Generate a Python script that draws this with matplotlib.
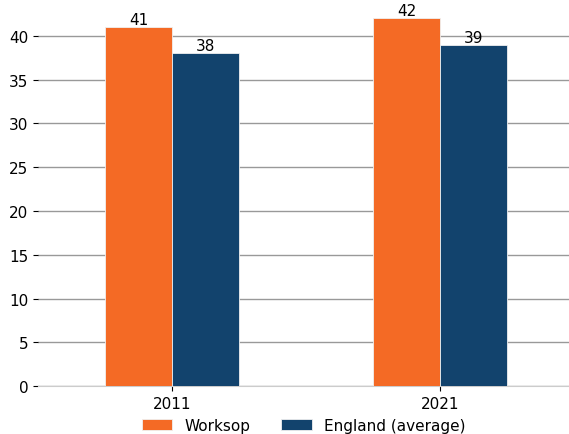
import matplotlib
matplotlib.use('Agg')

import matplotlib.pyplot as plt
import numpy as np

years = ["2011", "2021"]
worksop = [41, 42]
england = [38, 39]
series_names = ["Worksop", "England (average)"]
colours = ["#f46a25", "#12436d"]

fig = plt.figure(figsize=(5.69, 4.35), dpi=100)
ax = fig.add_axes([0.067, 0.11, 0.933, 0.89])

x = np.arange(len(years))
w = 0.25
b1 = ax.bar(x - w / 2, worksop, w, color=colours[0], edgecolor='#f0f0f0',
            linewidth=0.6, label=series_names[0], zorder=3)
b2 = ax.bar(x + w / 2, england, w, color=colours[1], edgecolor='#f0f0f0',
            linewidth=0.6, label=series_names[1], zorder=3)
ax.bar_label(b1, fontsize=11, padding=0)
ax.bar_label(b2, fontsize=11, padding=0)

ax.set_xticks(x)
ax.set_xticklabels(years)
ax.set_xlim(-0.5, 1.48)
ax.set_ylim(0, 44.2)
ax.set_yticks(range(0, 41, 5))
ax.tick_params(axis='both', labelsize=11)

ax.yaxis.grid(True, color='#999999', linewidth=1.0, zorder=0)
ax.set_axisbelow(True)
for s in ['top', 'right', 'left']:
    ax.spines[s].set_visible(False)
ax.spines['bottom'].set_color('#cccccc')

ax.legend(loc='upper center', bbox_to_anchor=(0.5, -0.059), ncol=2,
          frameon=False, fontsize=11, handlelength=2.0, columnspacing=2.0,
          borderaxespad=0.2)

plt.savefig('out.png', dpi=100)
